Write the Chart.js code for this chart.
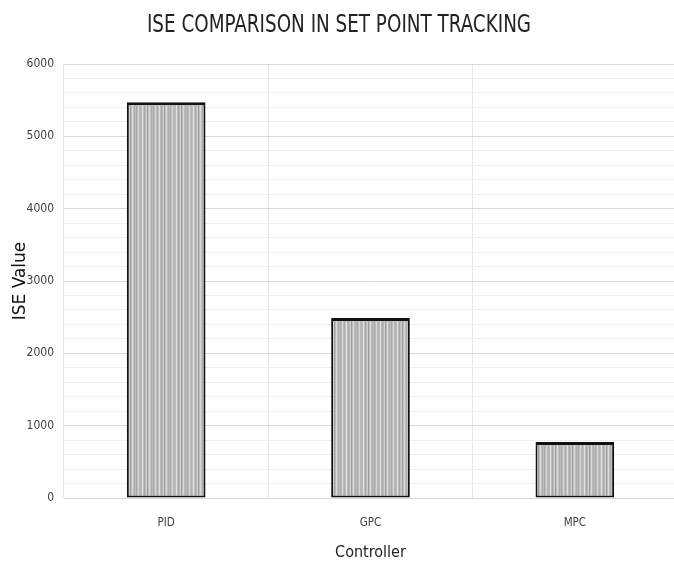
<!DOCTYPE html>
<html>
<head>
<meta charset="utf-8">
<script src="https://cdn.jsdelivr.net/npm/chart.js@4/dist/chart.umd.min.js"></script>
<style>
  html, body { margin: 0; padding: 0; background: #fff; overflow: hidden; }
  #wrap { width: 674px; height: 562px; overflow: hidden; }
  #c { display: block; }
</style>
</head>
<body>
<div id="wrap"><canvas id="c" width="677" height="562"></canvas></div>
<script>
// Chart data
const controllers = ['PID', 'GPC', 'MPC'];
const iseValues = [5470, 2490, 775];
const chartTitle = 'ISE COMPARISON IN SET POINT TRACKING';
const yMax = 6000;
const yStep = 200;       // minor gridline spacing
const yLabelStep = 1000; // labelled ticks

const narrow = '"Liberation Sans Narrow", "DejaVu Sans Condensed", "Arial Narrow", sans-serif';

// Vertical grey stripe fill used for the bars
function stripePattern() {
  const p = document.createElement('canvas');
  p.width = 17; p.height = 4;
  const g = p.getContext('2d');
  g.fillStyle = '#bdbdbd';
  g.fillRect(0, 0, p.width, p.height);
  const stripes = [
    [0, '#a9a9a9'], [2, '#d6d6d6'], [4, '#b0b0b0'], [6, '#e2e2e2'],
    [8, '#a8a8a8'], [10, '#cfcfcf'], [11, '#9e9e9e'], [13, '#dcdcdc'], [15, '#aeaeae']
  ];
  stripes.forEach(([x, c]) => { g.fillStyle = c; g.fillRect(x, 0, 1, p.height); });
  return g.createPattern(p, 'repeat');
}

// Condensed centred title drawn above the plot
const condensedTitle = {
  id: 'condensedTitle',
  afterDraw(chart) {
    const g = chart.ctx;
    g.save();
    g.font = '24px ' + narrow;
    g.fillStyle = '#222';
    g.textAlign = 'center';
    g.textBaseline = 'middle';
    const sx = 0.85;
    g.translate(339, 26);
    g.scale(sx, 1);
    g.fillText(chartTitle, 0, 0);
    g.restore();
  }
};

const ctx = document.getElementById('c').getContext('2d');
new Chart(ctx, {
  type: 'bar',
  data: {
    labels: controllers,
    datasets: [{
      data: iseValues,
      backgroundColor: stripePattern(),
      borderColor: '#111',
      borderWidth: { top: 3, left: 2, right: 2, bottom: 2 },
      borderSkipped: false,
      categoryPercentage: 1,
      barPercentage: 0.385
    }]
  },
  plugins: [condensedTitle],
  options: {
    responsive: false,
    animation: false,
    layout: { padding: { left: 0, right: 0, top: 64, bottom: 0 } },
    plugins: {
      legend: { display: false },
      tooltip: { enabled: false },
      title: { display: false }
    },
    scales: {
      x: {
        grid: { color: '#e6e6e6', lineWidth: 1, drawTicks: false },
        border: { color: '#d9d9d9', width: 1 },
        ticks: { color: '#404040', font: { family: narrow, size: 11.5 }, padding: 18 },
        title: {
          display: true, text: 'Controller', color: '#222',
          font: { family: narrow, size: 16 }, padding: { top: 6, bottom: 0 }
        },
        afterFit: s => { s.height = 64; }
      },
      y: {
        min: 0, max: yMax,
        grid: {
          drawTicks: false,
          color: c => (c.tick && c.tick.value % yLabelStep === 0) ? '#d9d9d9' : '#efefef',
          lineWidth: 1
        },
        border: { display: false },
        ticks: {
          stepSize: yStep,
          autoSkip: false,
          padding: 10,
          color: '#404040',
          font: { family: narrow, size: 12 },
          callback: v => (v % yLabelStep === 0) ? String(v) : ''
        },
        title: {
          display: true, text: 'ISE Value', color: '#111',
          font: { family: '"DejaVu Sans", Verdana, sans-serif', size: 17 },
          padding: { top: 10, bottom: 0 }
        },
        afterFit: s => { s.width = 64; }
      }
    }
  }
});
</script>
</body>
</html>
